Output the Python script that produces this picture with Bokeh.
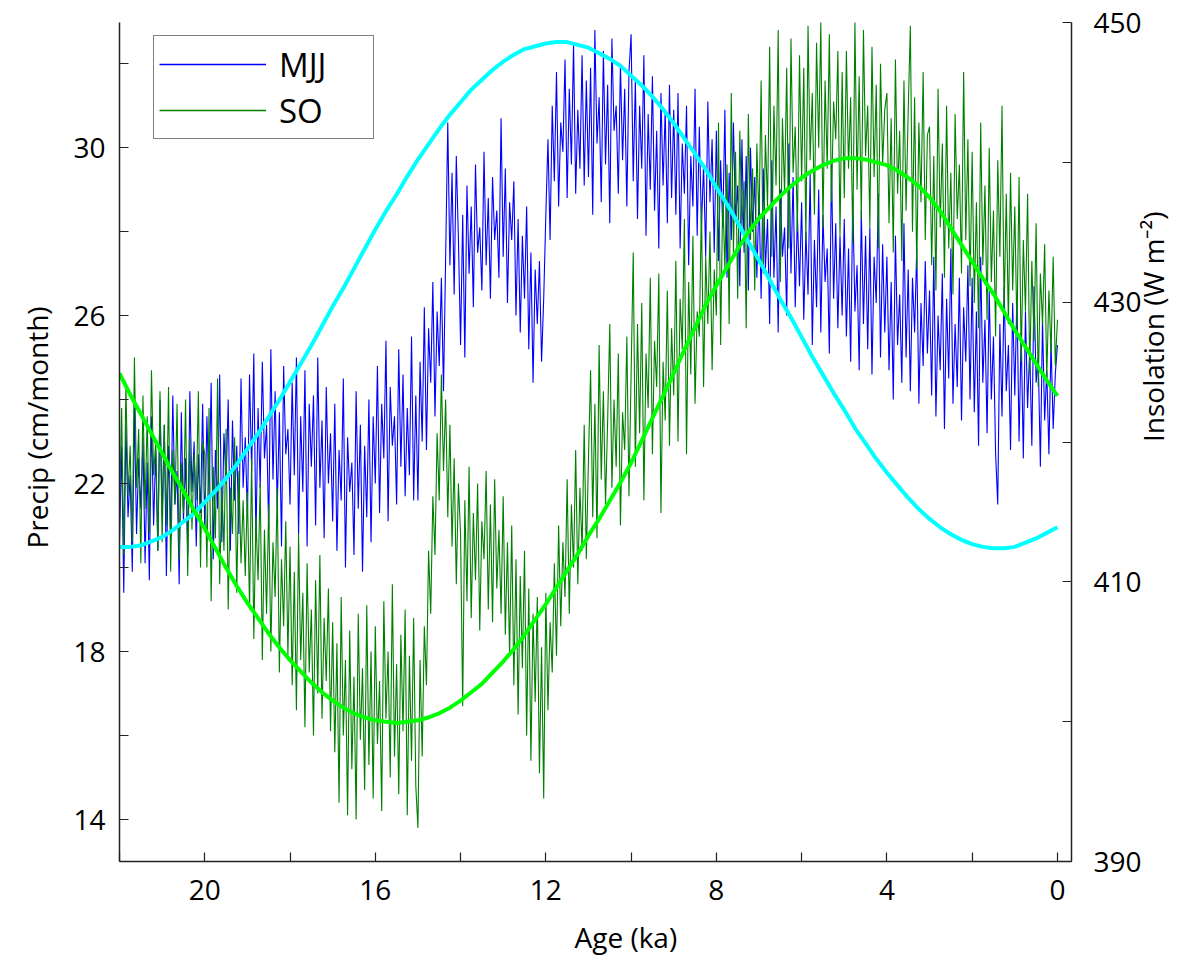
import math
from bokeh.plotting import figure
from bokeh.models import Range1d, LinearAxis, FixedTicker, Legend, LegendItem, Title
from bokeh.embed import file_html
from bokeh.resources import INLINE

# ---- data ----
# noisy precipitation series (cm/month), sampled every 0.05 ka from 22.0 ka to 0.0 ka
mjj = [
    20.6, 22.9, 19.4, 23.4, 21.2, 22.2, 19.9, 23.8, 20.8, 22.6, 21.4, 23.1, 20.1, 22.5, 19.7, 23.6, 21.0, 22.8, 20.4, 24.0,  # 22-21
    21.2, 23.4, 19.8, 22.9, 20.7, 24.1, 21.5, 22.3, 19.6, 23.7, 21.1, 22.6, 20.3, 24.2, 21.8, 23.0, 20.5, 22.7, 21.3, 23.9,  # 21-20
    20.9, 23.6, 21.7, 24.4, 20.2, 22.8, 21.4, 24.6, 20.6, 23.2, 22.0, 24.0, 20.4, 23.5, 21.6, 22.9, 20.8, 24.5, 21.9, 23.1,  # 20-19
    21.2, 24.6, 22.3, 25.1, 20.6, 23.8, 21.9, 24.9, 22.6, 23.4, 20.9, 25.2, 22.1, 24.2, 21.4, 23.7, 20.5, 24.8, 22.7, 23.3,  # 19-18
    21.5, 24.4, 22.2, 25.0, 20.8, 23.6, 21.8, 24.7, 20.5, 23.9, 22.4, 24.1, 21.0, 25.0, 21.9, 23.5, 20.7, 24.3, 22.0, 23.2,  # 18-17
    21.1, 23.9, 20.4, 22.8, 21.6, 24.5, 20.0, 23.1, 21.8, 22.5, 20.3, 24.2, 21.4, 23.4, 19.9, 22.9, 21.2, 24.0, 20.6, 23.6,  # 17-16
    22.0, 24.8, 21.3, 23.9, 22.6, 25.4, 21.1, 24.3, 22.9, 23.6, 21.5, 25.2, 22.4, 24.6, 21.7, 23.8, 22.2, 25.5, 21.6, 24.1,  # 16-15
    21.6, 24.9, 23.0, 26.2, 22.8, 25.7, 24.4, 26.8, 23.6, 26.1, 24.8, 26.9, 24.2, 27.4, 30.6, 27.2, 29.4, 26.5, 29.8, 27.8,  # 15-14
    25.3, 28.4, 25.0, 29.1, 27.0, 28.6, 26.2, 29.6, 27.5, 28.1, 26.6, 29.9, 27.2, 28.8, 26.4, 29.3, 27.8, 28.5, 26.9, 30.7,  # 14-13
    27.4, 29.5, 26.3, 28.7, 27.8, 29.2, 26.0, 28.3, 25.6, 27.9, 26.4, 28.6, 25.2, 27.5, 24.4, 27.1, 25.8, 27.3, 24.9, 26.4,  # 13-12
    28.4, 30.2, 27.8, 31.0, 29.2, 31.8, 28.6, 30.6, 29.9, 32.1, 28.8, 31.4, 29.6, 32.5, 28.9, 30.9, 29.5, 32.2, 29.1, 31.6,  # 12-11
    29.3, 31.9, 28.4, 32.8, 30.1, 31.2, 28.7, 32.3, 29.6, 31.5, 28.2, 32.6, 30.4, 31.0, 28.9, 32.0, 29.7, 31.4, 28.6, 31.8,  # 11-10
    32.7, 29.2, 31.6, 28.3, 31.0, 29.5, 32.2, 27.9, 30.8, 29.0, 31.7, 28.5, 30.4, 27.6, 31.3, 29.1, 30.9, 28.2, 31.5, 28.8,  # 10-9
    30.9, 28.4, 31.3, 27.6, 30.1, 28.9, 31.0, 27.2, 29.8, 28.6, 31.4, 27.9, 30.5, 28.1, 29.6, 27.4, 31.1, 28.7, 30.2, 27.5,  # 9-8
    30.4, 27.3, 29.7, 28.1, 30.9, 26.9, 29.4, 27.8, 30.6, 28.3, 29.1, 26.7, 30.2, 27.5, 29.8, 26.6, 30.0, 28.0, 29.3, 26.9,  # 8-7
    28.9, 26.4, 29.5, 27.1, 28.3, 25.8, 29.7, 26.9, 28.6, 25.6, 29.0, 27.4, 28.1, 26.0, 30.1, 27.0, 29.3, 26.2, 28.4, 26.7,  # 7-6
    28.7, 25.9, 28.0, 26.5, 29.4, 25.3, 27.8, 26.2, 29.0, 25.6, 28.4, 26.8, 27.6, 25.1, 29.6, 26.4, 28.2, 25.7, 27.9, 26.0,  # 6-5
    28.3, 25.5, 27.6, 24.9, 28.8, 26.1, 27.2, 24.7, 28.5, 25.8, 27.9, 25.2, 28.1, 24.6, 27.4, 26.3, 28.9, 25.0, 27.7, 25.6,  # 5-4
    27.4, 24.7, 26.8, 24.0, 27.9, 25.3, 26.5, 24.4, 28.2, 25.0, 27.1, 24.2, 26.9, 25.6, 27.6, 23.9, 26.3, 24.8, 27.3, 25.1,  # 4-3
    26.6, 24.1, 27.4, 23.6, 26.0, 24.7, 27.0, 23.3, 26.4, 24.5, 27.6, 23.9, 25.8, 24.3, 26.9, 23.5, 26.2, 24.9, 27.2, 24.0,  # 3-2
    26.9, 23.7, 26.1, 22.9, 27.4, 24.4, 25.9, 23.2, 26.6, 24.0, 25.5, 22.7, 21.5, 25.8, 23.6, 26.7, 24.2, 25.3, 22.8, 26.3,  # 2-1
    24.1, 26.5, 23.0, 25.6, 22.6, 26.1, 23.8, 25.2, 22.9, 26.7, 24.4, 25.0, 22.4, 25.9, 23.5, 24.7, 22.7, 25.4, 23.3, 24.6,
    25.3,  # 1-0
]
so = [
    21.2, 23.8, 20.3, 24.4, 21.7, 22.9, 20.6, 25.0, 21.9, 23.3, 20.1, 24.1, 21.4, 23.6, 20.8, 24.7, 22.2, 23.0, 20.4, 24.2,  # 22-21
    20.6, 23.4, 21.0, 24.3, 19.9, 22.8, 21.5, 23.9, 20.2, 22.5, 21.3, 24.0, 19.8, 23.1, 20.9, 22.7, 21.6, 24.2, 20.0, 23.0,  # 21-20
    22.7, 20.0, 23.8, 19.2, 22.4, 20.7, 24.5, 19.6, 22.0, 20.4, 23.3, 19.0, 21.9, 20.8, 23.1, 19.4, 22.3, 20.1, 21.6, 19.8,  # 20-19
    21.8, 19.0, 22.6, 18.3, 21.2, 19.7, 22.0, 17.8, 20.9, 18.9, 21.5, 18.0, 20.6, 19.3, 21.9, 17.5, 20.2, 18.6, 21.1, 17.9,  # 19-18
    20.5, 17.2, 19.9, 16.6, 20.8, 17.8, 19.4, 16.2, 20.1, 17.5, 19.0, 16.0, 19.7, 17.0, 20.3, 16.4, 18.8, 17.3, 19.5, 16.1,  # 18-17
    18.7, 15.6, 18.2, 14.4, 19.3, 16.0, 17.8, 14.1, 18.5, 15.2, 17.4, 14.0, 18.9, 15.9, 17.6, 14.7, 19.1, 15.3, 18.0, 14.5,  # 17-16
    18.6, 15.8, 17.3, 14.2, 19.2, 16.4, 18.0, 15.0, 19.6, 15.5, 17.7, 14.6, 18.4, 16.1, 19.0, 14.1, 17.9, 15.4, 18.8, 14.8,  # 16-15
    13.8, 17.8, 15.5, 18.6, 17.2, 20.4, 18.9, 21.7, 20.3, 23.2, 21.6, 24.6, 22.3, 24.0, 21.2, 23.4, 20.5, 22.6, 19.6, 22.0,  # 15-14
    20.8, 16.7, 21.6, 19.2, 22.4, 18.8, 21.3, 19.7, 22.0, 18.5, 21.1, 20.2, 22.3, 19.0, 21.5, 18.7, 22.1, 19.5, 20.9, 18.9,  # 14-13
    21.7, 18.4, 20.6, 17.9, 21.0, 17.2, 20.2, 16.5, 19.8, 17.6, 20.4, 16.0, 19.5, 15.4, 18.9, 16.8, 19.3, 15.1, 18.1, 14.5,  # 13-12
    19.4, 16.6, 18.7, 17.5, 20.1, 17.9, 21.0, 18.6, 20.6, 19.3, 22.1, 18.9, 21.5, 20.0, 22.8, 19.6, 21.9, 20.4, 23.4, 20.2,  # 12-11
    22.6, 24.7, 21.2, 23.9, 20.7, 25.3, 22.1, 24.2, 21.5, 23.5, 25.8, 21.9, 24.0, 22.4, 25.1, 21.0, 23.7, 22.8, 25.5, 21.7,  # 11-10
    24.6, 27.5, 22.4, 25.8, 23.2, 26.3, 21.6, 25.1, 23.8, 26.9, 22.7, 25.4, 24.3, 27.0, 21.3, 24.9, 23.5, 26.6, 22.9, 25.7,  # 10-9
    24.1, 27.3, 23.0, 26.4, 25.2, 28.3, 22.7, 26.8, 24.6, 27.9, 23.9, 26.1, 25.5, 28.6, 24.3, 27.4, 25.8, 28.0, 24.7, 27.1,  # 9-8
    26.0, 30.6, 25.3, 28.9, 27.1, 29.6, 25.8, 31.3, 27.5, 29.9, 26.4, 30.4, 28.1, 29.2, 25.7, 30.8, 27.8, 29.5, 26.6, 30.1,  # 8-7
    28.2, 31.6, 27.0, 30.3, 28.6, 32.4, 27.4, 31.0, 29.1, 32.8, 26.8, 30.7, 28.9, 31.9, 27.6, 32.6, 29.4, 30.5, 28.0, 32.2,  # 7-6
    29.2, 31.9, 27.8, 32.9, 29.7, 31.3, 28.4, 32.5, 30.0, 33.0, 28.1, 31.6, 29.5, 32.7, 28.7, 31.1, 30.2, 32.3, 27.9, 31.8,  # 6-5
    28.8, 32.3, 29.5, 31.2, 27.7, 33.0, 29.0, 31.7, 28.3, 32.8, 29.8, 31.0, 28.1, 32.4, 29.3, 31.5, 27.6, 32.0, 29.6, 30.9,  # 5-4
    31.3, 28.2, 30.7, 27.5, 32.1, 28.9, 30.4, 27.3, 31.6, 28.5, 30.9, 32.9, 28.0, 31.2, 27.1, 30.6, 28.7, 31.8, 27.8, 30.3,  # 4-3
    30.5, 27.2, 29.8, 26.6, 31.4, 28.1, 30.1, 26.9, 31.0, 27.6, 29.4, 26.5, 30.8, 28.3, 29.6, 27.0, 31.8, 27.8, 30.2, 26.7,  # 3-2
    29.9, 26.3, 28.7, 25.7, 30.6, 27.2, 29.1, 25.9, 30.0, 26.8, 28.5, 25.5, 29.7, 27.4, 31.0, 26.1, 28.9, 25.8, 29.4, 26.6,  # 2-1
    28.6, 25.6, 29.3, 24.9, 27.8, 26.1, 28.9, 24.6, 27.3, 25.4, 28.2, 24.3, 27.0, 25.8, 27.7, 24.5, 26.6, 25.1, 27.4, 24.8,
    25.9,  # 1-0
]
age_noisy = [round(22.0 - 0.05 * i, 2) for i in range(len(mjj))]

# smooth insolation curves (W m-2, right axis), every 0.25 ka from 22.0 to 0.0 ka
ins_mjj = [
    412.5, 412.5, 412.6, 412.9, 413.2, 413.7, 414.3, 414.9, 415.7, 416.5, 417.4, 418.4,  # 22-19.25
    419.5, 420.6, 421.8, 423.0, 424.3, 425.6, 426.9, 428.3, 429.7, 431.0, 432.4, 433.8,  # 19-16.25
    435.2, 436.5, 437.7, 439.0, 440.2, 441.3, 442.4, 443.4, 444.3, 445.2, 445.9, 446.6,  # 16-13.25
    447.2, 447.7, 448.1, 448.3, 448.5, 448.6, 448.6, 448.4, 448.2, 447.8, 447.4, 446.9,  # 13-10.25
    446.2, 445.5, 444.7, 443.8, 442.8, 441.7, 440.6, 439.5, 438.2, 437.0, 435.7, 434.3,  # 10-7.25
    433.0, 431.6, 430.2, 428.9, 427.5, 426.1, 424.8, 423.5, 422.3, 421.0, 419.9, 418.8,  # 7-4.25
    417.8, 416.9, 416.0, 415.2, 414.5, 413.9, 413.4, 413.0, 412.7, 412.5, 412.4, 412.4,  # 4-1.25
    412.5, 412.8, 413.1, 413.5, 413.9,                                                    # 1-0
]
ins_so = [
    424.9, 423.4, 422.0, 420.6, 419.2, 417.8, 416.5, 415.1, 413.8, 412.4, 411.0, 409.7,  # 22-19.25
    408.5, 407.4, 406.3, 405.3, 404.4, 403.6, 402.8, 402.1, 401.5, 401.0, 400.6, 400.3,  # 19-16.25
    400.1, 400.0, 399.9, 400.0, 400.1, 400.3, 400.6, 401.0, 401.5, 402.1, 402.7, 403.5,  # 16-13.25
    404.3, 405.2, 406.2, 407.3, 408.4, 409.6, 410.8, 412.0, 413.3, 414.5, 415.8, 417.1,  # 13-10.25
    418.5, 420.1, 421.7, 423.3, 424.9, 426.6, 428.2, 429.8, 431.2, 432.5, 433.8, 435.0,  # 10-7.25
    436.0, 436.8, 437.6, 438.3, 438.9, 439.4, 439.8, 440.1, 440.3, 440.3, 440.2, 440.0,  # 7-4.25
    439.8, 439.4, 438.9, 438.3, 437.5, 436.5, 435.3, 434.1, 432.9, 431.7, 430.6, 429.3,  # 4-1.25
    428.0, 426.8, 425.6, 424.4, 423.3,                                                    # 1-0
]
age_smooth = [round(22.0 - 0.25 * i, 2) for i in range(len(ins_mjj))]

x_major = [0, 4, 8, 12, 16, 20]
x_minor = [2, 6, 10, 14, 18, 22]
y_major = [14, 18, 22, 26, 30]
y_minor = [16, 20, 24, 28, 32]
r_major = [390, 410, 430, 450]
r_minor = [400, 420, 440]
series_names = ["MJJ", "SO"]
axis_titles = ["Age (ka)", "Precip (cm/month)", "Insolation (W m\u207b\u00b2)"]

FONT = "Open Sans"

p = figure(width=1193, height=970,
           x_range=Range1d(22.0, -0.33), y_range=Range1d(13.0, 32.98),
           output_backend="svg", toolbar_location=None,
           min_border_left=119, min_border_right=122,
           min_border_top=22, min_border_bottom=109,
           background_fill_color="white", border_fill_color="white")
p.outline_line_color = None
p.xgrid.visible = False
p.ygrid.visible = False
p.extra_y_ranges = {"ins": Range1d(390, 450)}

p.line(age_noisy, mjj, line_color="#0000ff", line_width=1.1)
p.line(age_noisy, so, line_color="#008000", line_width=1.1)
p.line(age_smooth, ins_mjj, line_color="#00ffff", line_width=4, y_range_name="ins")
p.line(age_smooth, ins_so, line_color="#00ff00", line_width=4, y_range_name="ins")

# legend-only renderers, placed outside the visible ranges, drawn a bit thicker
leg_mjj = p.line([-10, -11], [0, 0], line_color="#0000ff", line_width=1.6)
leg_so = p.line([-10, -11], [0, 0], line_color="#008000", line_width=1.6)

rax = LinearAxis(y_range_name="ins")
p.add_layout(rax, "right")


def style(ax, standoff):
    ax.major_label_text_font = FONT
    ax.major_label_text_font_size = "28px"
    ax.major_label_text_color = "black"
    ax.major_label_standoff = standoff
    ax.axis_line_color = "#222222"
    ax.axis_line_width = 1.5
    ax.major_tick_line_color = "#222222"
    ax.minor_tick_line_color = "#222222"
    ax.major_tick_line_width = 1.2
    ax.minor_tick_line_width = 1.2
    ax.major_tick_in = 9
    ax.major_tick_out = 0
    ax.minor_tick_in = 9
    ax.minor_tick_out = 0


xa = p.xaxis[0]
xa.ticker = FixedTicker(ticks=x_major, minor_ticks=x_minor)
style(xa, 18)

ya = p.yaxis[0]
ya.ticker = FixedTicker(ticks=y_major, minor_ticks=y_minor)
style(ya, 14)

rax.ticker = FixedTicker(ticks=r_major, minor_ticks=r_minor)
style(rax, 22)
rax.axis_label = axis_titles[2]
rax.axis_label_text_font = FONT
rax.axis_label_text_font_size = "28px"
rax.axis_label_text_font_style = "normal"
rax.axis_label_text_color = "black"
rax.axis_label_standoff = 8
try:
    rax.axis_label_orientation = math.pi / 2
except Exception:
    pass

# x and left axis titles as side titles (shifted along the axis like in the reference)
xtitle = Title(text=axis_titles[0], align="left", offset=455, standoff=26,
               text_font=FONT, text_font_size="28px", text_font_style="normal",
               text_color="black")
p.add_layout(xtitle, "below")
ytitle = Title(text=axis_titles[1], align="left", offset=313, standoff=30,
               text_font=FONT, text_font_size="28px", text_font_style="normal",
               text_color="black")
p.add_layout(ytitle, "left")

legend = Legend(items=[LegendItem(label=series_names[0], renderers=[leg_mjj]),
                       LegendItem(label=series_names[1], renderers=[leg_so])],
                location=(34, 722))
legend.label_text_font = FONT
legend.label_text_font_size = "33px"
legend.label_text_color = "black"
legend.glyph_width = 107
legend.glyph_height = 46
legend.label_height = 46
legend.label_width = 89
legend.label_standoff = 13
legend.padding = 5
legend.spacing = 0
legend.margin = 0
legend.border_line_color = "black"
legend.border_line_width = 1
legend.background_fill_color = "white"
legend.background_fill_alpha = 1.0
p.add_layout(legend)

open("out.html", "w").write(file_html(p, INLINE))
